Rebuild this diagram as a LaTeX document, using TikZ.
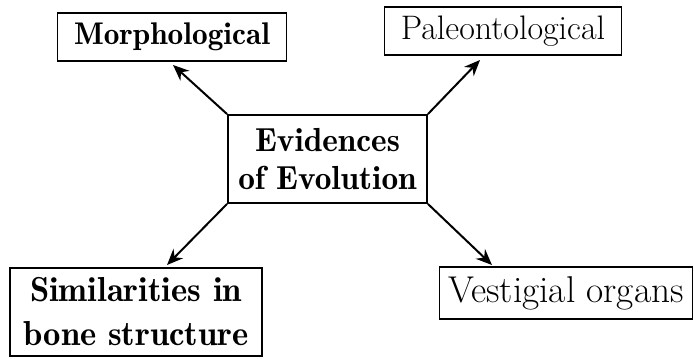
\documentclass[tikz,border=0pt]{standalone}
\usetikzlibrary{arrows.meta}
\begin{document}
\begin{tikzpicture}[x=0.75pt,y=-0.75pt,
  box/.style={draw=black, line width=1.4pt, inner sep=0pt, align=center},
  arr/.style={line width=1.5pt, -{Stealth[length=12pt,width=10pt]}}]
\useasboundingbox (0,0) rectangle (694,358);
\node[box, font=\fontseries{b}\fontsize{23.5}{23.5}\selectfont, minimum width=171.75pt, minimum height=36pt] (morph) at (172,37) {Morphological};
\node[box, font=\fontsize{25.5}{25.5}\selectfont, minimum width=177.75pt, minimum height=36pt] (paleo) at (503,31) {Paleontological};
\node[box, font=\fontseries{b}\fontsize{25}{28}\selectfont, minimum width=149.25pt, minimum height=66pt] (evid) at (327.5,159)
  {Evidences\\of Evolution};
\node[box, font=\fontseries{b}\fontsize{26}{33}\selectfont, minimum width=189pt, minimum height=66pt] (sim) at (136,312)
  {Similarities in\\bone structure};
\node[box, font=\fontsize{28}{28}\selectfont, minimum width=189.75pt, minimum height=39pt] (vest) at (566,293) {Vestigial organs};
\coordinate (tm) at (173,65);
\coordinate (tp) at (480,60);
\coordinate (ts) at (167,265);
\coordinate (tv) at (492,265);
\draw[arr] (evid.north west) -- (tm);
\draw[arr] (evid.north east) -- (tp);
\draw[arr] (evid.south west) -- (ts);
\draw[arr] (evid.south east) -- (tv);
\end{tikzpicture}
\end{document}
